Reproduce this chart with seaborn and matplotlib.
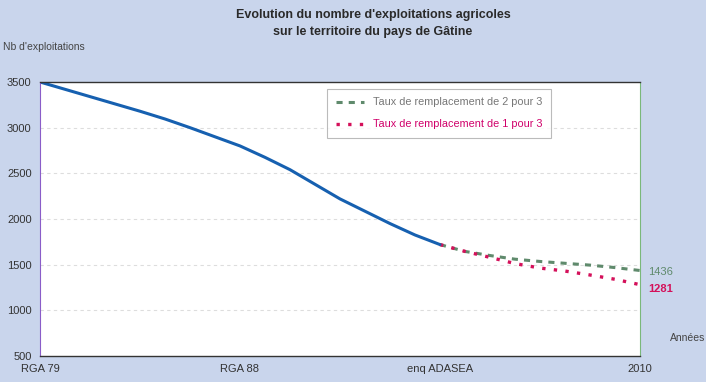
import matplotlib
matplotlib.use("Agg")
import matplotlib.pyplot as plt
import numpy as np
import pandas as pd
import seaborn as sns

# category labels on the x axis
categories = ["RGA 79", "RGA 88", "enq ADASEA", "2010"]

hist_x = [0, 0.125, 0.25, 0.375, 0.5, 0.625, 0.75, 0.875, 1.0,
          1.125, 1.25, 1.375, 1.5, 1.625, 1.75, 1.875, 2.0]
hist_y = [3500, 3420, 3340, 3260, 3180, 3095, 3000, 2900, 2800,
          2675, 2540, 2380, 2220, 2085, 1950, 1825, 1720]

# projections from enq ADASEA to 2010
proj_x = [2.0, 2.125, 2.25, 2.375, 2.5, 2.625, 2.75, 2.875, 3.0]
proj_2pour3 = [1720, 1645, 1600, 1560, 1535, 1515, 1495, 1468, 1436]
proj_1pour3 = [1720, 1645, 1580, 1512, 1463, 1430, 1387, 1340, 1281]

yticks = [500, 1000, 1500, 2000, 2500, 3000, 3500]

sns.set_style("white")
plt.rcParams["font.family"] = ["Liberation Sans", "DejaVu Sans"]

bg = "#c9d5ec"
blue = "#1660b0"
green = "#5f8a6c"
red = "#d4105a"

fig = plt.figure(figsize=(7.06, 3.82), dpi=100, facecolor=bg)
ax = fig.add_axes([40 / 706, 1 - 356 / 382, 600 / 706, 274 / 382])
ax.set_facecolor("white")

df_hist = pd.DataFrame({"x": hist_x, "y": hist_y})
df_g = pd.DataFrame({"x": proj_x, "y": proj_2pour3})
df_r = pd.DataFrame({"x": proj_x, "y": proj_1pour3})

for v in yticks[1:-1]:
    ax.axhline(v, color="#dddddd", lw=0.8, ls=(0, (3, 3)), zorder=0)

sns.lineplot(data=df_g, x="x", y="y", ax=ax, color=green, lw=2.2,
             label="Taux de remplacement de 2 pour 3")
sns.lineplot(data=df_r, x="x", y="y", ax=ax, color=red, lw=2.4,
             label="Taux de remplacement de 1 pour 3")
sns.lineplot(data=df_hist, x="x", y="y", ax=ax, color=blue, lw=2.2)
ax.lines[-3].set_linestyle((0, (2, 2)))
ax.lines[-2].set_linestyle((0, (1, 2.5)))
for ln in ax.lines:
    ln.set_solid_joinstyle("round")

ax.set_xlim(0, 3)
ax.set_ylim(500, 3500)
ax.set_xticks(range(len(categories)))
ax.set_xticklabels(categories)
ax.set_yticks(yticks)
ax.set_xlabel("")
ax.set_ylabel("")
ax.tick_params(axis="both", labelsize=8, colors="#333333", length=3, pad=3)
ax.tick_params(axis="x", direction="in", pad=6)

for side in ["top", "bottom"]:
    ax.spines[side].set_color("#333333")
    ax.spines[side].set_linewidth(1.0)
ax.spines["left"].set_color("#8a5cc8")
ax.spines["right"].set_color("#7ab87a")

leg = ax.legend(loc="upper left", bbox_to_anchor=(0.47, 0.995), fontsize=7.8,
                frameon=True, fancybox=False, edgecolor="#aaaaaa",
                handlelength=2.6, labelspacing=1.1, borderpad=0.8)
leg.get_frame().set_linewidth(0.8)
leg.get_texts()[0].set_color("#777777")
leg.get_texts()[1].set_color("#d0006a")

ax.annotate(str(proj_2pour3[-1]), xy=(3, proj_2pour3[-1]), xytext=(6, -1),
            textcoords="offset points", va="center", fontsize=8,
            color="#5f8a6c")
ax.annotate(str(proj_1pour3[-1]), xy=(3, proj_1pour3[-1]), xytext=(6, -3),
            textcoords="offset points", va="center", fontsize=8,
            fontweight="bold", color="#d4105a")

fig.text(373 / 706, 1 - 15 / 382, "Evolution du nombre d'exploitations agricoles",
         ha="center", va="center", fontsize=9, fontweight="bold", color="#2a2a2a")
fig.text(373 / 706, 1 - 32 / 382, "sur le territoire du pays de Gâtine",
         ha="center", va="center", fontsize=9, fontweight="bold", color="#2a2a2a")
fig.text(3 / 706, 1 - 47 / 382, "Nb d'exploitations", ha="left", va="center",
         fontsize=7.5, color="#444444")
fig.text(670 / 706, 1 - 338 / 382, "Années", ha="left", va="center",
         fontsize=7.5, color="#444444")

fig.savefig("out.png", dpi=100, facecolor=bg)
